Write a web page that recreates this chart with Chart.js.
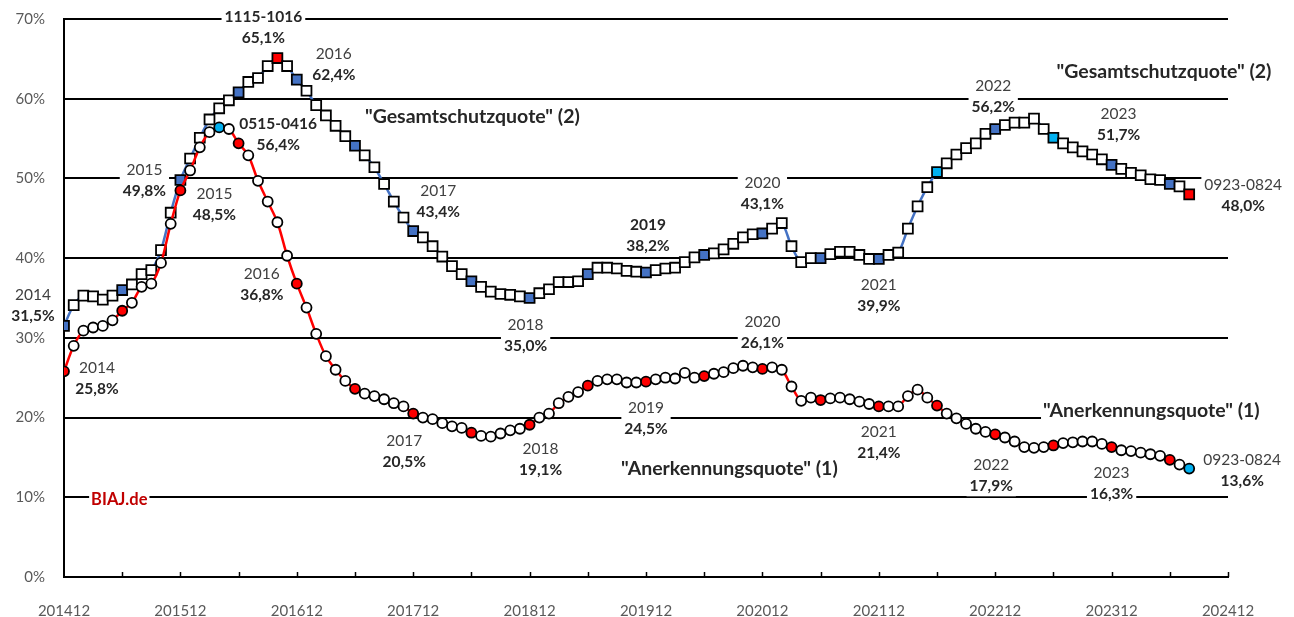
<!DOCTYPE html>
<html>
<head>
<meta charset="utf-8">
<script src="https://cdn.jsdelivr.net/npm/chart.js@4.4.1/dist/chart.umd.min.js"></script>
<style>
  html, body { margin: 0; padding: 0; background: #fff; }
  #chart { display: block; }
</style>
</head>
<body>
<canvas id="chart" width="1294" height="617"></canvas>
<script>
// rolling 12-month rates in %, one value per month, index 0 = 201412, last = 202408
const xTickLabels = ['201412', '201512', '201612', '201712', '201812', '201912',
                     '202012', '202112', '202212', '202312', '202412'];

const gesamtschutzquote = [
  31.5, 34.1, 35.3, 35.2, 34.8, 35.3, 36.0, 36.7, 38.0, 38.5, 41.0, 45.7,
  49.8, 52.5, 55.1, 57.4, 58.8, 59.8, 60.8, 62.1, 62.6, 64.1, 65.1, 64.1,
  62.4, 61.0, 59.2, 57.9, 56.6, 55.3, 54.1, 52.9, 51.4, 49.3, 47.1, 45.1,
  43.4, 42.6, 41.5, 40.2, 39.0, 38.0, 37.1, 36.4, 35.8, 35.5, 35.4, 35.2,
  35.0, 35.6, 36.1, 37.0, 37.0, 37.1, 38.0, 38.8, 38.8, 38.7, 38.4, 38.3,
  38.2, 38.5, 38.7, 38.8, 39.5, 40.1, 40.4, 40.6, 41.1, 41.8, 42.6, 43.0,
  43.1, 43.7, 44.4, 41.5, 39.5, 40.0, 40.0, 40.5, 40.8, 40.8, 40.4, 39.9,
  39.9, 40.4, 40.7, 43.7, 46.5, 48.9, 50.8, 51.9, 53.0, 53.8, 54.4, 55.6,
  56.2, 56.7, 57.0, 57.0, 57.5, 56.2, 55.1, 54.4, 53.9, 53.4, 53.0, 52.4,
  51.7, 51.2, 50.7, 50.4, 49.9, 49.8, 49.3, 49.0, 48.0
];

const anerkennungsquote = [
  25.8, 29.0, 30.9, 31.3, 31.5, 32.2, 33.4, 34.4, 36.4, 36.8, 39.4, 44.3,
  48.5, 51.0, 53.9, 55.8, 56.4, 56.2, 54.4, 52.9, 49.7, 47.1, 44.5, 40.3,
  36.8, 33.8, 30.5, 27.7, 26.0, 24.6, 23.6, 23.0, 22.7, 22.3, 21.8, 21.4,
  20.5, 20.0, 19.8, 19.3, 18.9, 18.7, 18.1, 17.7, 17.6, 18.0, 18.4, 18.6,
  19.1, 20.0, 20.5, 21.8, 22.6, 23.2, 24.0, 24.6, 24.8, 24.8, 24.4, 24.4,
  24.5, 24.8, 25.0, 24.9, 25.6, 25.0, 25.2, 25.5, 25.7, 26.2, 26.5, 26.3,
  26.1, 26.3, 26.0, 23.9, 22.1, 22.5, 22.2, 22.4, 22.5, 22.3, 22.0, 21.7,
  21.4, 21.4, 21.4, 22.7, 23.5, 22.5, 21.5, 20.5, 19.9, 19.2, 18.6, 18.2,
  17.9, 17.5, 17.0, 16.3, 16.2, 16.3, 16.5, 16.8, 16.9, 17.0, 17.0, 16.7,
  16.3, 15.9, 15.8, 15.6, 15.4, 15.2, 14.7, 14.1, 13.6
];

// labelled points: month index and caption above the value
const gesamtNoteIdx = [0, 12, 22, 24, 36, 48, 60, 72, 84, 96, 108, 116];
const gesamtNoteText = ['2014', '2015', '1115-1016', '2016', '2017', '2018',
                        '2019', '2020', '2021', '2022', '2023', '0923-0824'];
const anerkNoteIdx = [0, 12, 16, 24, 36, 48, 60, 72, 84, 96, 108, 116];
const anerkNoteText = ['2014', '2015', '0515-0416', '2016', '2017', '2018',
                       '2019', '2020', '2021', '2022', '2023', '0923-0824'];

const FONT = 'Lato, "Open Sans", sans-serif';
const BLUE = '#4472C4', RED = '#FF0000', CYAN = '#00B0F0';

// where each caption sits relative to its point (px), and bold caption flag
const gesamtPlace = [[-31, -31], [-36, -10], [-14, -41, true], [37, -26], [25, -40], [-4, 27],
                     [2, -47, true], [0, -50], [0, 26], [-2, -43], [7, -51], [54, -9]];
const anerkPlace = [[33, -3], [34, 4], [59, -3, true], [-35, -10], [-9, 27], [11, 24],
                    [0, 26], [0, -47], [0, 26], [-4, 31], [0, 26], [53, -9]];

// series names, placed in data coordinates (month index, percent)
const seriesNames = [
  { text: '"Gesamtschutzquote" (2)', x: 42.1, y: 57.7, color: '#262626', size: 19.5 },
  { text: '"Gesamtschutzquote" (2)', x: 113.4, y: 63.4, color: '#262626', size: 19.5 },
  { text: '"Anerkennungsquote" (1)', x: 112.1, y: 20.9, color: '#262626', size: 19.5 },
  { text: '"Anerkennungsquote" (1)', x: 68.6, y: 13.55, color: '#262626', size: 19.5 },
  { text: 'BIAJ.de', x: 5.7, y: 9.7, color: '#C00000', size: 16.5 }
];

function fmt(v) { return v.toFixed(1).replace('.', ',') + '%'; }

function squareColor(i) {
  if (i === 22 || i === 116) return RED;
  if (i === 90 || i === 102) return CYAN;
  return i % 6 === 0 ? BLUE : '#fff';
}
function circleColor(i) {
  if (i === 16 || i === 116) return CYAN;
  return i % 6 === 0 ? RED : '#fff';
}

function drawNote(ctx, x, y, top, value, boldTop) {
  ctx.font = (boldTop ? 'bold ' : '') + '15.5px ' + FONT;
  const w1 = ctx.measureText(top).width;
  ctx.font = 'bold 15.5px ' + FONT;
  const w2 = ctx.measureText(value).width;
  const w = Math.max(w1, w2) + 6;
  ctx.fillStyle = '#fff';
  ctx.fillRect(x - w / 2, y - 10, w, 41);
  ctx.textAlign = 'center';
  ctx.textBaseline = 'middle';
  ctx.font = (boldTop ? 'bold ' : '') + '15.5px ' + FONT;
  ctx.fillStyle = boldTop ? '#262626' : '#404040';
  ctx.fillText(top, x, y);
  ctx.font = 'bold 15.5px ' + FONT;
  ctx.fillStyle = '#262626';
  ctx.fillText(value, x, y + 21);
}

const notesPlugin = {
  id: 'notes',
  beforeDatasetsDraw(chart) {
    const ctx = chart.ctx;
    const xs = chart.scales.x, ys = chart.scales.y;
    const area = chart.chartArea;
    ctx.save();
    // small tick marks pointing up from the x axis
    ctx.strokeStyle = '#000';
    ctx.lineWidth = 1.5;
    for (let m = 6; m <= 120; m += 6) {
      const px = Math.round(xs.getPixelForValue(m)) + 0.5;
      ctx.beginPath();
      ctx.moveTo(px, area.bottom);
      ctx.lineTo(px, area.bottom - 5);
      ctx.stroke();
    }
    gesamtNoteIdx.forEach((idx, k) => {
      const p = gesamtPlace[k];
      const x = xs.getPixelForValue(idx) + p[0];
      const y = ys.getPixelForValue(gesamtschutzquote[idx]) + p[1];
      drawNote(ctx, x, y, gesamtNoteText[k], fmt(gesamtschutzquote[idx]), p[2]);
    });
    anerkNoteIdx.forEach((idx, k) => {
      const p = anerkPlace[k];
      const x = xs.getPixelForValue(idx) + p[0];
      const y = ys.getPixelForValue(anerkennungsquote[idx]) + p[1];
      drawNote(ctx, x, y, anerkNoteText[k], fmt(anerkennungsquote[idx]), p[2]);
    });
    seriesNames.forEach(s => {
      const x = xs.getPixelForValue(s.x);
      const y = ys.getPixelForValue(s.y);
      ctx.font = 'bold ' + s.size + 'px ' + FONT;
      const w = ctx.measureText(s.text).width + 4;
      ctx.fillStyle = '#fff';
      ctx.fillRect(x - w / 2, y - 12, w, 24);
      ctx.fillStyle = s.color;
      ctx.textAlign = 'center';
      ctx.textBaseline = 'middle';
      ctx.fillText(s.text, x, y);
    });
    ctx.restore();
  }
};

new Chart(document.getElementById('chart'), {
  type: 'line',
  data: {
    datasets: [
      {
        label: 'Anerkennungsquote',
        data: anerkennungsquote.map((v, i) => ({ x: i, y: v })),
        borderColor: RED,
        borderWidth: 2.5,
        tension: 0.3,
        pointStyle: 'circle',
        pointRadius: 5,
        pointBorderWidth: 1.8,
        pointBorderColor: '#000',
        pointBackgroundColor: ctx => circleColor(ctx.dataIndex)
      },
      {
        label: 'Gesamtschutzquote',
        data: gesamtschutzquote.map((v, i) => ({ x: i, y: v })),
        borderColor: BLUE,
        borderWidth: 2.5,
        tension: 0.3,
        pointStyle: 'rect',
        pointRadius: 7,
        pointBorderWidth: 1.8,
        pointBorderColor: '#000',
        pointBackgroundColor: ctx => squareColor(ctx.dataIndex)
      }
    ]
  },
  options: {
    responsive: false,
    animation: false,
    layout: { padding: { top: 19, right: 66, left: 0, bottom: 0 } },
    plugins: {
      legend: { display: false },
      tooltip: { enabled: false }
    },
    scales: {
      x: {
        type: 'linear',
        min: 0,
        max: 120,
        afterFit: s => { s.height = 40; },
        grid: { display: false, drawTicks: false },
        border: { display: true, color: '#000', width: 2 },
        ticks: {
          stepSize: 6,
          autoSkip: false,
          maxRotation: 0,
          padding: 25,
          color: '#595959',
          font: { family: FONT, size: 15 },
          callback: v => (v % 12 === 0 ? xTickLabels[v / 12] : '')
        }
      },
      y: {
        min: 0,
        max: 70,
        afterFit: s => { s.width = 64; s.paddingTop = 0; s.paddingBottom = 0; },
        grid: { color: '#000', lineWidth: 2, drawTicks: false },
        border: { display: true, color: '#000', width: 2 },
        ticks: {
          stepSize: 10,
          padding: 19,
          color: '#595959',
          font: { family: FONT, size: 15 },
          callback: v => v + '%'
        }
      }
    }
  },
  plugins: [notesPlugin]
});
</script>
</body>
</html>
